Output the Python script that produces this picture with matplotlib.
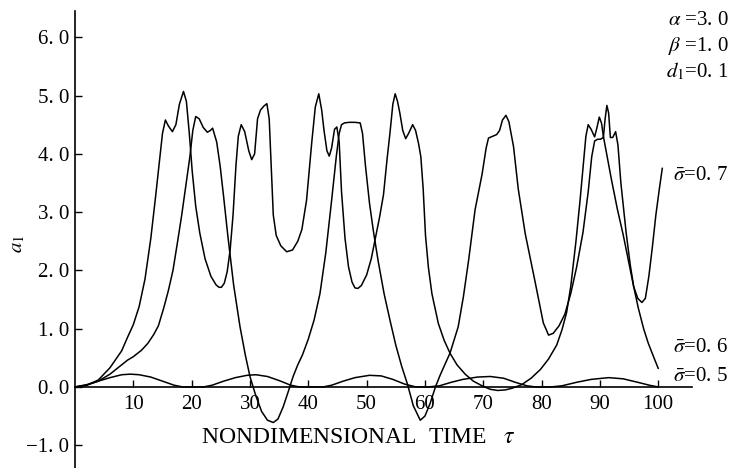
import matplotlib
matplotlib.use("Agg")
import matplotlib.pyplot as plt

plt.rcParams['font.family'] = ['Liberation Serif', 'DejaVu Serif']
plt.rcParams['mathtext.fontset'] = 'stix'

# sigma = 0.5 : small humps
t_05 = [0, 2, 4, 6, 8, 9.5, 11, 13, 15, 17, 18.5, 20, 22, 23.5, 25.5, 27.5, 29.5, 31, 33, 35,
        37, 38.5, 40, 42.5, 44, 46, 48, 50.5, 52.5, 54.5, 56.5, 58.5, 60.5, 62.5, 64.5, 66.5,
        69, 71.2, 73.5, 75.5, 77.5, 79, 81.5, 83.5, 86, 88.5, 91.5, 94, 96.5, 98.5, 100]
a_05 = [0, 0.04, 0.1, 0.16, 0.21, 0.22, 0.21, 0.17, 0.1, 0.03, 0.0, 0.0, 0.0, 0.03, 0.1, 0.16,
        0.2, 0.21, 0.18, 0.11, 0.03, 0.0, 0.0, 0.0, 0.03, 0.1, 0.16, 0.2, 0.19, 0.13, 0.05, 0.0,
        0.0, 0.02, 0.08, 0.13, 0.17, 0.18, 0.15, 0.08, 0.02, 0.0, 0.0, 0.02, 0.08, 0.13, 0.16,
        0.14, 0.08, 0.03, 0.0]

# sigma = 0.6
t_06 = [0, 2, 4, 6, 7.5, 9, 10, 11.4, 12.5, 13.5, 14.3, 15.2, 16, 16.8, 17.6, 18.3, 19, 19.7,
        20.2, 20.7, 21.3, 22, 22.7, 23.2, 23.6, 24.3, 24.9, 25.5, 26.2, 27.2, 28.3, 29.2, 30,
        31, 32, 33, 34, 34.8, 35.7, 36.5, 37.4, 38.2, 39, 40, 41, 42, 43, 44, 44.8, 45.3, 45.7,
        46.2, 47, 48, 48.9, 49.3, 49.8, 50.5, 51.2, 52, 53, 54, 55, 56, 57, 58, 59.2, 60, 60.9,
        61.8, 62.6, 63.4, 64.3, 65.7, 66.6, 67.5, 68.6, 69.8, 70.5, 70.9, 71.6, 72.3, 72.8,
        73.3, 73.9, 74.4, 75.2, 76, 77.2, 78.9, 80.3, 81.2, 82, 83, 84, 85, 86, 87.1, 88, 88.6,
        89.1, 89.6, 90.1, 90.6, 90.9, 91.2, 91.5, 91.8, 92.2, 92.7, 93.1, 93.6, 94.5, 95.2,
        95.8, 96.6, 97.5, 98.3, 99.2, 100]
a_06 = [0, 0.03, 0.1, 0.22, 0.34, 0.46, 0.52, 0.63, 0.75, 0.9, 1.05, 1.35, 1.65, 2.0, 2.5, 2.95,
        3.45, 3.95, 4.4, 4.64, 4.6, 4.45, 4.37, 4.4, 4.44, 4.2, 3.78, 3.25, 2.6, 1.75, 1.03,
        0.55, 0.18, -0.15, -0.42, -0.57, -0.61, -0.55, -0.34, -0.1, 0.18, 0.38, 0.55, 0.82,
        1.15, 1.6, 2.3, 3.2, 3.95, 4.35, 4.5, 4.53, 4.54, 4.54, 4.53, 4.35, 3.8, 3.15, 2.65,
        2.15, 1.6, 1.15, 0.72, 0.36, 0.05, -0.32, -0.57, -0.5, -0.28, 0.0, 0.2, 0.38, 0.58,
        1.03, 1.55, 2.18, 3.04, 3.65, 4.1, 4.27, 4.3, 4.33, 4.4, 4.58, 4.66, 4.55, 4.12, 3.4,
        2.63, 1.8, 1.1, 0.89, 0.92, 1.05, 1.25, 1.6, 2.05, 2.65, 3.35, 3.95, 4.22, 4.25, 4.25,
        4.28, 4.6, 4.83, 4.7, 4.28, 4.28, 4.38, 4.15, 3.5, 2.65, 2.1, 1.72, 1.35, 1.0, 0.75,
        0.52, 0.32]

# sigma = 0.7
t_07 = [0, 2, 4, 6, 8, 9, 10, 11, 12, 13, 13.8, 14.5, 15, 15.5, 16, 16.7, 17.3, 17.9, 18.6,
        19.1, 19.6, 20.1, 20.7, 21.4, 22.3, 23.3, 24.2, 24.7, 25.1, 25.6, 26.1, 26.6, 27.1,
        27.6, 28, 28.5, 29.1, 29.8, 30.3, 30.8, 31.3, 31.8, 32.4, 32.9, 33.3, 33.6, 34, 34.5,
        35.3, 36.3, 37.3, 38.2, 38.9, 39.7, 40.6, 41.2, 41.8, 42.3, 42.7, 43.2, 43.6, 44, 44.5,
        44.9, 45.3, 45.7, 46.3, 46.9, 47.5, 48, 48.5, 49.1, 50, 50.8, 51.5, 52.2, 52.9, 53.5,
        54, 54.5, 54.9, 55.3, 55.7, 56.2, 56.7, 57.2, 57.9, 58.4, 58.9, 59.3, 59.7, 60.1, 60.6,
        61.2, 62.3, 63.3, 64.3, 65.5, 66.9, 68.3, 69.8, 71.2, 72.5, 73.8, 75, 76.6, 78.2, 79.8,
        81.2, 82.6, 83.5, 84.3, 85, 85.9, 86.6, 87.2, 87.6, 88, 88.5, 89.1, 89.5, 89.9, 90.3,
        90.6, 91.2, 92, 93, 94, 95, 95.8, 96.5, 97.2, 97.8, 98.4, 99, 99.6, 100.2, 100.7]
a_07 = [0, 0.03, 0.12, 0.33, 0.62, 0.85, 1.07, 1.38, 1.85, 2.55, 3.25, 3.9, 4.35, 4.58, 4.48,
        4.38, 4.5, 4.85, 5.07, 4.9, 4.35, 3.7, 3.1, 2.64, 2.2, 1.9, 1.75, 1.71, 1.71, 1.78,
        1.98, 2.35, 2.95, 3.8, 4.3, 4.5, 4.38, 4.05, 3.9, 4.0, 4.6, 4.75, 4.82, 4.86, 4.6,
        3.9, 2.95, 2.6, 2.42, 2.32, 2.35, 2.5, 2.7, 3.2, 4.2, 4.8, 5.03, 4.75, 4.4, 4.05, 3.96,
        4.1, 4.42, 4.46, 4.2, 3.35, 2.55, 2.06, 1.8, 1.7, 1.69, 1.74, 1.92, 2.2, 2.55, 2.9,
        3.3, 3.9, 4.35, 4.85, 5.03, 4.9, 4.7, 4.4, 4.26, 4.35, 4.5, 4.4, 4.18, 3.95, 3.4, 2.6,
        2.05, 1.6, 1.09, 0.8, 0.58, 0.38, 0.22, 0.1, 0.02, -0.04, -0.06, -0.05, -0.02, 0.04,
        0.15, 0.3, 0.48, 0.72, 0.98, 1.28, 1.72, 2.5, 3.2, 3.85, 4.3, 4.5, 4.42, 4.29, 4.45,
        4.63, 4.52, 4.3, 3.98, 3.55, 3.05, 2.61, 2.12, 1.72, 1.52, 1.45, 1.52, 1.9, 2.4, 2.95,
        3.4, 3.75]

x_ticks = [10, 20, 30, 40, 50, 60, 70, 80, 90, 100]
y_ticks = [-1, 0, 1, 2, 3, 4, 5, 6]
y_tick_labels = ['\u22121. 0', '0. 0', '1. 0', '2. 0', '3. 0', '4. 0', '5. 0', '6. 0']
params = [r'$\alpha$ =3. 0', r'$\beta$ =1. 0', r'$d_1$=0. 1']
sigma_labels = [r'$\bar{\sigma}$=0. 7', r'$\bar{\sigma}$=0. 6', r'$\bar{\sigma}$=0. 5']
sigma_label_y = [3.62, 0.67, 0.18]

fig = plt.figure(figsize=(7.47, 4.68), dpi=100)
ax = fig.add_axes([0.1004, 0.0, 0.826, 0.9765])

for t, a in [(t_05, a_05), (t_06, a_06), (t_07, a_07)]:
    ax.plot(t, a, color='black', lw=1.1, solid_joinstyle='round')

ax.set_xlim(0, 105.8)
ax.set_ylim(-1.39, 6.45)

ax.spines['top'].set_visible(False)
ax.spines['right'].set_visible(False)
ax.spines['bottom'].set_position(('data', 0))
ax.spines['bottom'].set_linewidth(1.2)
ax.spines['left'].set_linewidth(1.2)

ax.set_xticks(x_ticks)
ax.set_xticklabels([str(v) for v in x_ticks])
ax.set_yticks(y_ticks)
ax.set_yticklabels(y_tick_labels)
ax.tick_params(axis='both', direction='in', length=5, width=1.0, labelsize=15, pad=4)
ax.tick_params(axis='x', pad=6)

ax.text(-9.8, 2.45, r'$a_1$', rotation=90, fontsize=15, ha='center', va='center')
ax.text(48.5, -0.86, r'NONDIMENSIONAL  TIME   $\tau$', fontsize=17,
        ha='center', va='center')

for i, s in enumerate(params):
    ax.text(112.1, 6.28 - i * 0.43, s, fontsize=15, ha='right', va='center')

for s, yv in zip(sigma_labels, sigma_label_y):
    ax.text(102.5, yv, s, fontsize=15, ha='left', va='center')

fig.savefig('out.png', dpi=100)
